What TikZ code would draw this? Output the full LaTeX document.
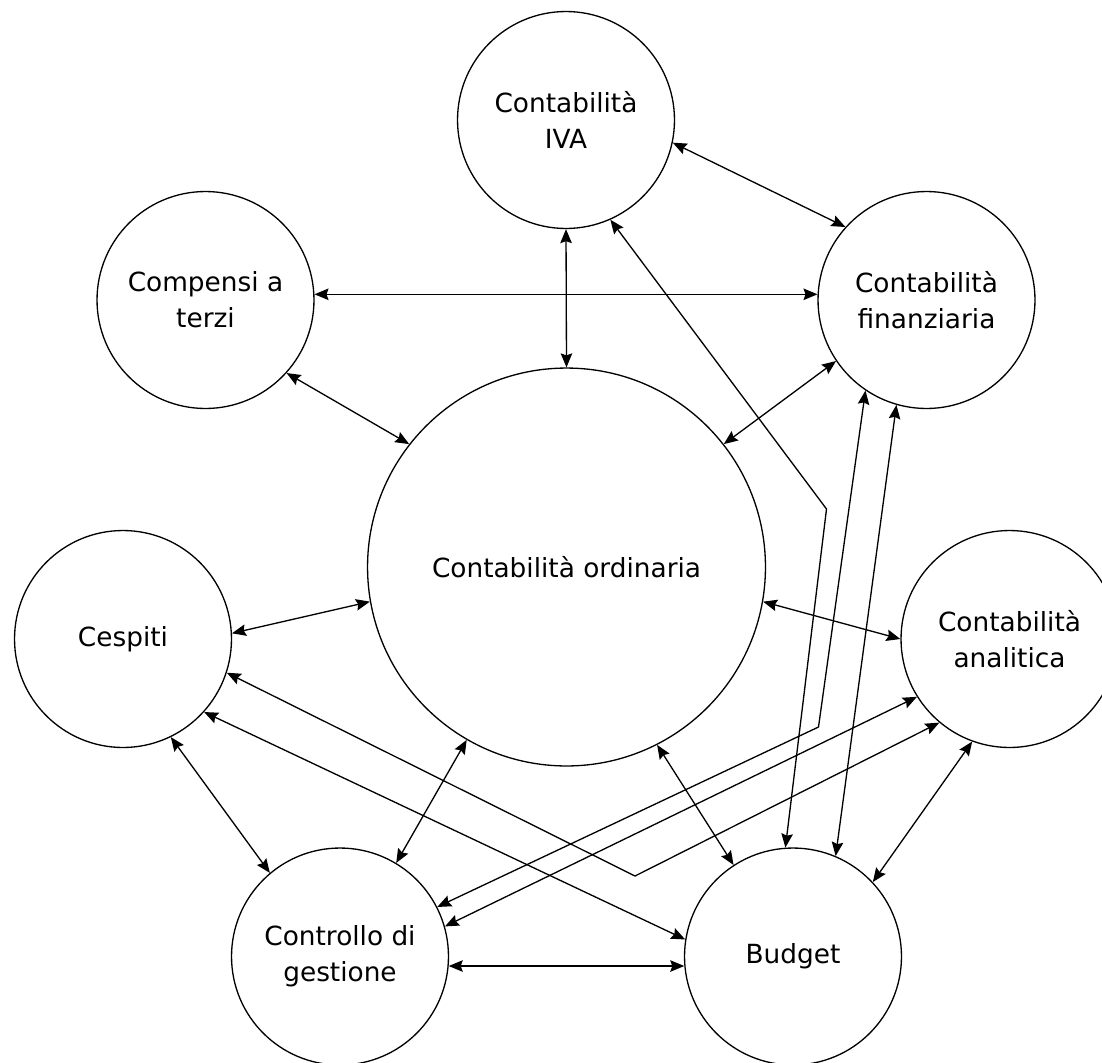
\documentclass[tikz,border=0pt]{standalone}
\usepackage{fontspec}
\setmainfont{DejaVu Sans}
\usepackage{tikz}
\usetikzlibrary{arrows.meta}

\begin{document}
\begin{tikzpicture}[x=0.02cm,y=-0.02cm,line width=0.75pt,
    cnode/.style={draw,circle,minimum size=4.34cm,inner sep=0pt,align=center,font=\fontsize{15}{20.5}\selectfont},
    bnode/.style={cnode,minimum size=7.96cm},
    >={Stealth[length=0.28cm,width=0.23cm,inset=0.04cm]}]
    \useasboundingbox (0,0) rectangle (1102,1062);

    \node[cnode] (iva) at (566,120) {Contabilità\\IVA};
    \node[cnode] (comp) at (205.5,300) {Compensi a\\terzi};
    \node[cnode] (fin) at (926.5,300) {Contabilità\\finanziaria};
    \node[bnode] (ord) at (566.5,567) {Contabilità ordinaria};
    \node[cnode] (cesp) at (123,639) {Cespiti};
    \node[cnode] (ana) at (1009.5,639) {Contabilità\\analitica};
    \node[cnode] (ctrl) at (340,956.5) {Controllo di\\gestione};
    \node[cnode] (bud) at (793,956.5) {Budget};

    \coordinate (k1) at (826.5,509);
    \coordinate (k2) at (818.5,727);
    \coordinate (k3) at (635,876);

    \draw[<->] (iva.-12) -- (fin.138);
    \draw[<->] (comp.3) -- (fin.177);
    \draw[<->] (iva.south) -- (ord.north);
    \draw[<->] (comp.-42) -- (ord.142);
    \draw[<->] (fin.214) -- (ord.38);
    \draw[<->] (iva.-66) -- (k1) -- (bud.94);

    \draw[<->] (fin.236) -- (k2) -- (ctrl.27);
    \draw[<->] (fin.254) -- (bud.67);
    \draw[<->] (cesp.3) -- (ord.190);
    \draw[<->] (ord.-10) -- (ana.180);

    \draw[<->] (cesp.-42) -- (bud.171);
    \draw[<->] (cesp.-18) -- (k3) -- (ana.230);
    \draw[<->] (cesp.-64) -- (ctrl.130);
    \draw[<->] (ord.240) -- (ctrl.59);
    \draw[<->] (ord.-63) -- (bud.123);
    \draw[<->] (ana.250) -- (bud.43);
    \draw[<->] (ana.212) -- (ctrl.16);
    \draw[<->] (ctrl.-5) -- (bud.185);
\end{tikzpicture}
\end{document}
